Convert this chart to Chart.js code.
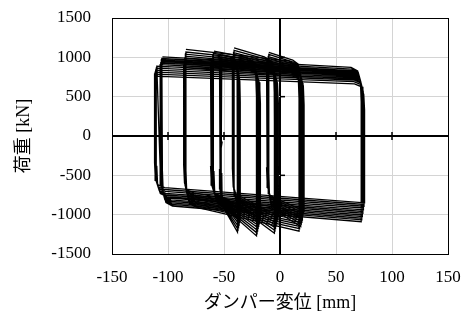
<!DOCTYPE html>
<html>
<head>
<meta charset="utf-8">
<script src="https://cdn.jsdelivr.net/npm/chart.js@4.4.1/dist/chart.umd.min.js"></script>
<style>
  html, body { margin: 0; background: #fff; }
</style>
</head>
<body>
<canvas id="chart" width="469" height="320"></canvas>
<script>
// axis ticks
const xTicks = [-150, -100, -50, 0, 50, 100, 150];
const yTicks = [-1500, -1000, -500, 0, 500, 1000, 1500];

// loop group A (-110 ~ 75 mm): reversal positions and force levels per cycle
const aLeft  = [-105, -105.5, -106, -106, -106.5, -107, -110, -110.5, -111, -111.5, -112, -112];
const aRight = [72.5, 73, 73, 73.5, 73.5, 74, 74, 74.5, 74.5, 75, 75, 75.5];
const aTopL  = [1005, 985, 966, 947, 928, 908, 888, 862, 837, 812, 786, 760];
const aTopR  = [872, 851, 832, 815, 798, 782, 766, 749, 731, 712, 690, 662];
const aBotR  = [-1090, -1066, -1045, -1025, -1004, -982, -960, -938, -915, -893, -871, -850];
const aBotL  = [-890, -868, -849, -830, -811, -791, -771, -750, -729, -705, -680, -655];

// loop group B (-85 ~ 18 mm)
const bLeft  = [-84, -84, -84.5, -84.5, -85, -85, -85.5, -85.5, -86, -86];
const bRight = [17, 17.5, 17.5, 18, 18, 18.5, 18.5, 19, 19.5, 20];
const bTopL  = [1100, 1068, 1040, 1015, 990, 966, 942, 918, 894, 870];
const bTopR  = [955, 932, 910, 890, 870, 850, 830, 808, 786, 764];
const bBotR  = [-1210, -1178, -1150, -1124, -1098, -1072, -1046, -1020, -995, -970];
const bBotL  = [-905, -884, -864, -844, -824, -804, -784, -764, -744, -724];

// loop group C (-60 ~ -20 mm)
const cLeft  = [-59, -59.5, -60, -60, -60.5, -61, -61.5, -62];
const cRight = [-21, -20.5, -20, -19.5, -19, -18.5, -18, -17.5];
const cTopL  = [1080, 1050, 1024, 1000, 976, 952, 928, 904];
const cTopR  = [1000, 974, 950, 926, 902, 878, 854, 830];
const cBotR  = [-1270, -1234, -1200, -1170, -1140, -1110, -1080, -1050];
const cBotL  = [-905, -882, -860, -840, -820, -800, -780, -760];

// loop group D (-53 ~ -37 mm)
const dLeft  = [-52, -52.5, -53, -53, -53.5, -54];
const dRight = [-38, -37.5, -37, -36.5, -36, -35.5];
const dTopL  = [1030, 1004, 980, 956, 932, 908];
const dTopR  = [990, 964, 940, 916, 892, 868];
const dBotR  = [-1220, -1186, -1154, -1122, -1090, -1058];
const dBotL  = [-960, -936, -912, -888, -864, -840];

// loop group E (-41 ~ -4 mm)
const eLeft  = [-41, -41, -41.5, -41.5, -42, -42, -42.5, -42.5];
const eRight = [-5, -4.5, -4, -3.5, -3, -2.5, -2, -1.5];
const eTopL  = [1120, 1088, 1060, 1034, 1008, 982, 956, 930];
const eTopR  = [1005, 980, 956, 932, 908, 884, 860, 836];
const eBotR  = [-1235, -1202, -1170, -1140, -1110, -1080, -1050, -1020];
const eBotL  = [-950, -926, -902, -878, -854, -830, -806, -782];

// loop group F (-10 ~ 19 mm)
const fLeft  = [-10, -10, -10.5, -10.5, -11, -11, -11.5, -12];
const fRight = [18.5, 19, 19.5, 20, 20, 20.5, 21, 21.5];
const fTopL  = [1062, 1036, 1010, 986, 962, 938, 914, 890];
const fTopR  = [965, 940, 916, 892, 868, 844, 820, 796];
const fBotR  = [-1150, -1120, -1092, -1064, -1036, -1008, -980, -952];
const fBotL  = [-960, -936, -912, -888, -864, -840, -816, -792];

// last unfinished stroke near -52 mm
const tailX = [-52, -52.3, -52.6, -51.6];
const tailY = [1000, 400, -145, -70];

// one loop per cycle: spike after the left reversal, dip after the right one,
// rounded corners where the damper slows into a reversal
function buildLoops(left, right, topL, topR, botR, botL) {
    const pts = [];
    for (let i = 0; i < left.length; i++) {
        const r = Math.min(9, (right[i] - left[i]) * 0.25);
        pts.push({ x: left[i], y: topL[i] });
        pts.push({ x: right[i] - r, y: topR[i] });
        pts.push({ x: right[i] - r * 0.35, y: topR[i] * 0.95 });
        pts.push({ x: right[i] - r * 0.08, y: topR[i] * 0.8 });
        pts.push({ x: right[i], y: topR[i] * 0.5 });
        pts.push({ x: right[i], y: botR[i] });
        pts.push({ x: left[i] + r, y: botL[i] });
        pts.push({ x: left[i] + r * 0.35, y: botL[i] * 0.95 });
        pts.push({ x: left[i] + r * 0.08, y: botL[i] * 0.8 });
        pts.push({ x: left[i], y: botL[i] * 0.5 });
    }
    return pts;
}

const groups = [
    buildLoops(aLeft, aRight, aTopL, aTopR, aBotR, aBotL),
    buildLoops(bLeft, bRight, bTopL, bTopR, bBotR, bBotL),
    buildLoops(cLeft, cRight, cTopL, cTopR, cBotR, cBotL),
    buildLoops(dLeft, dRight, dTopL, dTopR, dBotR, dBotL),
    buildLoops(eLeft, eRight, eTopL, eTopR, eBotR, eBotL),
    buildLoops(fLeft, fRight, fTopL, fTopR, fBotR, fBotL),
    tailX.map((x, i) => ({ x, y: tailY[i] }))
];

// small tick marks on the zero axes
const zeroAxisTicks = {
    id: 'zeroAxisTicks',
    afterDatasetsDraw(chart) {
        const { ctx, scales: { x, y } } = chart;
        const x0 = x.getPixelForValue(0);
        const y0 = y.getPixelForValue(0);
        ctx.save();
        ctx.strokeStyle = '#000';
        ctx.lineWidth = 1.5;
        xTicks.forEach(v => {
            if (v === 0 || Math.abs(v) === 150) return;
            const px = x.getPixelForValue(v);
            ctx.beginPath();
            ctx.moveTo(px, y0 - 4);
            ctx.lineTo(px, y0 + 4);
            ctx.stroke();
        });
        yTicks.forEach(v => {
            if (v === 0 || Math.abs(v) === 1500) return;
            const py = y.getPixelForValue(v);
            ctx.beginPath();
            ctx.moveTo(x0, py);
            ctx.lineTo(x0 + 5, py);
            ctx.stroke();
        });
        ctx.restore();
    }
};

const tickFont = { family: "'Liberation Serif', 'Times New Roman', serif", size: 17 };
const titleFont = { family: "'Liberation Serif', 'Noto Sans CJK JP', serif", size: 18 };

const gridColor = c => (c.tick.value === 0 || c.tick.value === 150 || c.tick.value === 1500) ? '#000' : '#d4d4d4';
const gridWidth = c => c.tick.value === 0 ? 2 : 1;

new Chart(document.getElementById('chart'), {
    type: 'scatter',
    data: {
        datasets: groups.map(pts => ({
            data: pts,
            showLine: true,
            borderColor: '#000',
            borderWidth: 1.3,
            pointRadius: 0,
            tension: 0
        }))
    },
    options: {
        responsive: false,
        animation: false,
        layout: { padding: { top: 18, right: 21, left: 0, bottom: 0 } },
        plugins: { legend: { display: false }, tooltip: { enabled: false } },
        scales: {
            x: {
                type: 'linear',
                min: -150,
                max: 150,
                afterBuildTicks: s => { s.ticks = xTicks.map(v => ({ value: v })); },
                afterFit: s => { s.height = 66; s.paddingLeft = 0; s.paddingRight = 0; },
                ticks: { font: tickFont, color: '#000', padding: 13, callback: v => String(v) },
                grid: { color: gridColor, lineWidth: gridWidth, drawTicks: false },
                border: { color: '#000', width: 1 },
                title: { display: true, text: 'ダンパー変位 [mm]', font: titleFont, color: '#000', padding: { top: 0, bottom: 6 } }
            },
            y: {
                type: 'linear',
                min: -1500,
                max: 1500,
                afterBuildTicks: s => { s.ticks = yTicks.map(v => ({ value: v })); },
                afterFit: s => { s.width = 112; s.paddingTop = 0; s.paddingBottom = 0; },
                ticks: { font: tickFont, color: '#000', padding: 21, callback: v => String(v) },
                grid: { color: gridColor, lineWidth: gridWidth, drawTicks: false },
                border: { color: '#000', width: 1 },
                title: { display: true, text: '荷重 [kN]', font: titleFont, color: '#000', padding: { top: 13, bottom: 0 } }
            }
        }
    },
    plugins: [zeroAxisTicks]
});
</script>
</body>
</html>
